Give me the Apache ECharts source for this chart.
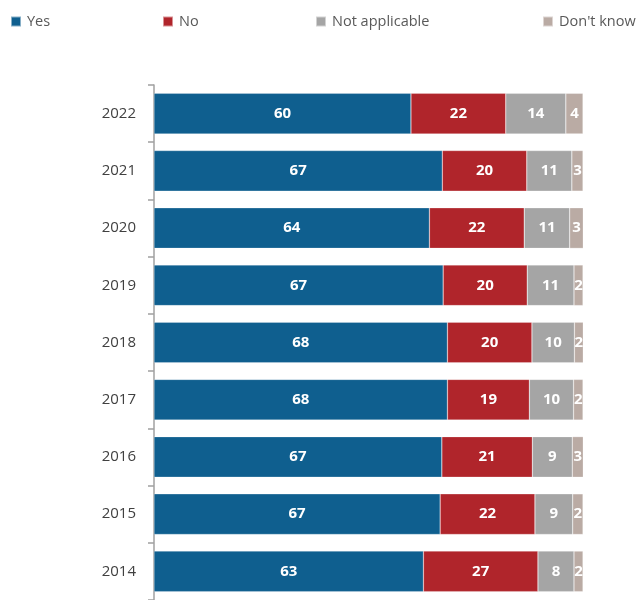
<!DOCTYPE html>
<html>
<head>
<meta charset="utf-8">
<script src="https://cdn.jsdelivr.net/npm/echarts@6/dist/echarts.min.js"></script>
<style>html,body{margin:0;padding:0;background:#fff}#c{width:643px;height:600px}</style>
</head>
<body>
<div id="c"></div>
<script>
const years = ['2022','2021','2020','2019','2018','2017','2016','2015','2014'];
const yes = [59.9, 67.2, 64.2, 67.4, 68.4, 68.4, 67.1, 66.7, 62.8];
const no = [22.1, 19.7, 22.1, 19.6, 19.7, 19.1, 21.1, 22.1, 26.7];
const notApplicable = [14.0, 10.5, 10.6, 10.9, 9.9, 10.3, 9.3, 8.8, 8.4];
const dontKnow = [4.0, 2.6, 3.2, 2.1, 2.1, 2.2, 2.6, 2.4, 2.1];
const seriesNames = ['Yes', 'No', 'Not applicable', "Don't know"];
const colors = ['#0F5F8F', '#B0252B', '#A5A5A5', '#BAABA4'];
const values = [yes, no, notApplicable, dontKnow];
const legendX = [10, 162, 315, 542];

const chart = echarts.init(document.getElementById('c'));
chart.setOption({
  animation: false,
  legend: seriesNames.map((n, i) => ({
    data: [n], left: legendX[i], top: 14, padding: 0, itemWidth: 10, itemHeight: 10, itemGap: 0,
    icon: 'rect',
    textStyle: { color: '#595959', fontSize: 14.5, fontFamily: 'Open Sans', padding: [0, 0, 0, 1] }
  })),
  grid: { left: 154, right: 60, top: 85, bottom: -7 },
  xAxis: { type: 'value', min: 0, max: 100, show: false },
  yAxis: {
    type: 'category', data: years, inverse: true,
    axisLine: { lineStyle: { color: '#A0A0A0', width: 1.5 } },
    axisTick: { show: true, length: 6, lineStyle: { color: '#A0A0A0', width: 1.5 } },
    axisLabel: { color: '#404040', fontSize: 15, fontFamily: 'Open Sans', margin: 18 }
  },
  series: seriesNames.map((n, i) => ({
    name: n, type: 'bar', stack: 'total', barWidth: '71%',
    data: values[i],
    itemStyle: { color: colors[i], borderColor: 'rgba(255,255,255,0.5)', borderWidth: 0.5 },
    label: {
      show: true, position: 'inside', color: '#fff', fontSize: 15, fontWeight: 'bold',
      fontFamily: 'Open Sans', formatter: p => Math.round(p.value)
    }
  }))
});
</script>
</body>
</html>
